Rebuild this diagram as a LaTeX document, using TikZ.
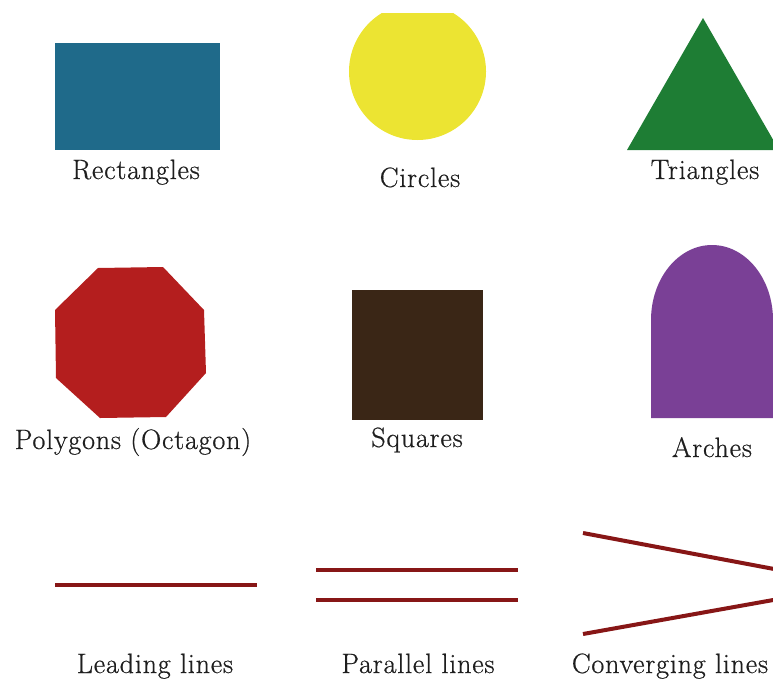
\documentclass[tikz,border=0pt]{standalone}
\usepackage{fontspec}
\setmainfont{Latin Modern Roman}[LetterSpace=3,FakeBold=0.6]
\definecolor{rectc}{RGB}{31,106,138}
\definecolor{circc}{RGB}{236,228,50}
\definecolor{tric}{RGB}{30,125,52}
\definecolor{octc}{RGB}{180,30,30}
\definecolor{sqc}{RGB}{58,38,22}
\definecolor{archc}{RGB}{122,64,150}
\definecolor{linec}{RGB}{135,22,22}
\definecolor{txtc}{RGB}{30,30,30}
\begin{document}
\begin{tikzpicture}[x=0.75pt,y=-0.75pt,
  lbl/.style={text=txtc,font=\fontsize{21}{24}\selectfont,inner sep=0pt,anchor=base},
  ln/.style={draw=linec,line width=3pt}]
\useasboundingbox (0,0) rectangle (773,682);
\clip (0,0) rectangle (773,682);
% row 1
\fill[rectc] (55,43) rectangle (220,150);
\begin{scope}
  \clip (340,13) rectangle (500,150);
  \fill[circc] (417.5,71.5) circle (68.5);
\end{scope}
\fill[tric] (703,18) -- (627,150) -- (779,150) -- cycle;
\node[lbl] (l1) at (136,179) {Rectangles};
\node[lbl] (l2) at (420,187) {Circles};
\node[lbl] (l3) at (705,179) {Triangles};
% row 2
\fill[octc] (98,268) -- (163,267) -- (204,310) -- (206,373) -- (166,417) -- (100,418) -- (56,378) -- (55,310) -- cycle;
\fill[sqc] (352,290) rectangle (483,420);
\fill[archc] (651,418) -- (651,320) arc[start angle=180,end angle=360,x radius=61,y radius=75] -- (773,418) -- cycle;
\node[lbl] (l4) at (133,449) {Polygons (Octagon)};
\node[lbl] (l5) at (417,447) {Squares};
\node[lbl] (l6) at (712,457) {Arches};
% row 3
\coordinate (a1) at (55,585);
\coordinate (a2) at (257,585);
\draw[ln] (a1) -- (a2);
\coordinate (b1) at (316,570);
\coordinate (b2) at (518,570);
\coordinate (b3) at (316,600);
\coordinate (b4) at (518,600);
\draw[ln] (b1) -- (b2);
\draw[ln] (b3) -- (b4);
\coordinate (c1) at (583,533);
\coordinate (c2) at (790,572);
\coordinate (c3) at (583,634);
\coordinate (c4) at (790,597);
\draw[ln] (c1) -- (c2);
\draw[ln] (c3) -- (c4);
\node[lbl] (l7) at (155,673) {Leading lines};
\node[lbl] (l8) at (418,673) {Parallel lines};
\node[lbl] (l9) at (670,673) {Converging lines};
\end{tikzpicture}
\end{document}
